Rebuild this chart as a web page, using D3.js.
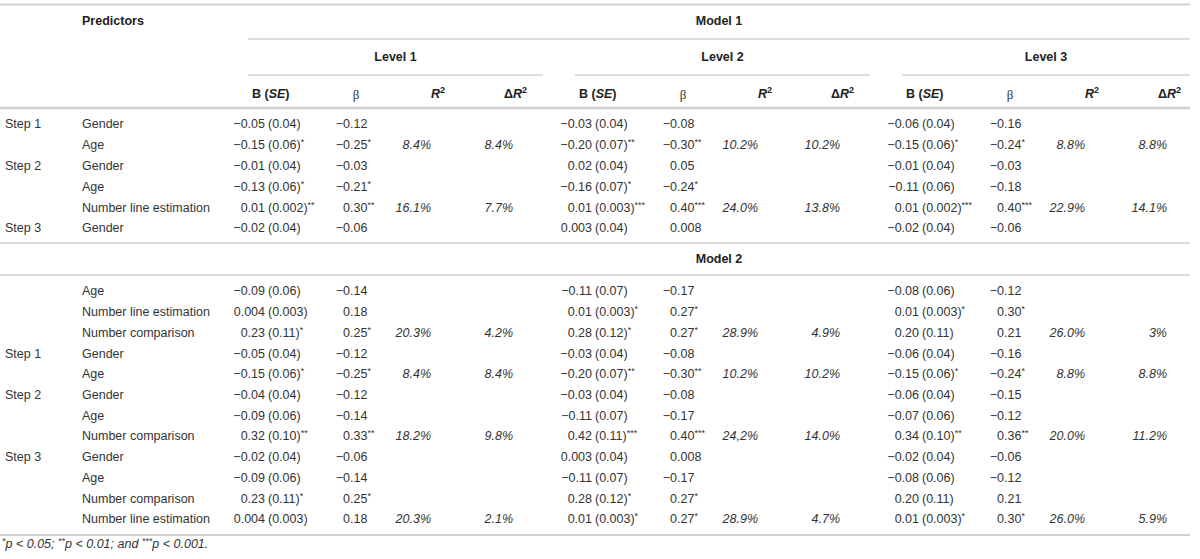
<!DOCTYPE html>
<html>
<head>
<meta charset="utf-8">
<script src="https://cdn.jsdelivr.net/npm/d3@7"></script>
<style>
body { margin: 0; background: #fff; }
svg text { font-family: "Liberation Sans", Arial, sans-serif; font-size: 12.5px; fill: #333; }
svg text.bold { font-weight: bold; fill: #222; }
</style>
</head>
<body>
<div id="chart"></div>
<script>
var levels = ["Level 1", "Level 2", "Level 3"];
var models = ["Model 1", "Model 2"];

// Model 1
var m1Steps = ["Step 1", "", "Step 2", "", "", "Step 3"];
var m1Predictors = ["Gender", "Age", "Gender", "Age", "Number line estimation", "Gender"];
var m1B = [
    ["−0.05 (0.04)", "−0.15 (0.06)*", "−0.01 (0.04)", "−0.13 (0.06)*", "0.01 (0.002)**", "−0.02 (0.04)"],
    ["−0.03 (0.04)", "−0.20 (0.07)**", "0.02 (0.04)", "−0.16 (0.07)*", "0.01 (0.003)***", "0.003 (0.04)"],
    ["−0.06 (0.04)", "−0.15 (0.06)*", "−0.01 (0.04)", "−0.11 (0.06)", "0.01 (0.002)***", "−0.02 (0.04)"]
];
var m1Beta = [
    ["−0.12", "−0.25*", "−0.03", "−0.21*", "0.30**", "−0.06"],
    ["−0.08", "−0.30**", "0.05", "−0.24*", "0.40***", "0.008"],
    ["−0.16", "−0.24*", "−0.03", "−0.18", "0.40***", "−0.06"]
];
var m1R2 = [
    ["", "8.4%", "", "", "16.1%", ""],
    ["", "10.2%", "", "", "24.0%", ""],
    ["", "8.8%", "", "", "22.9%", ""]
];
var m1DR2 = [
    ["", "8.4%", "", "", "7.7%", ""],
    ["", "10.2%", "", "", "13.8%", ""],
    ["", "8.8%", "", "", "14.1%", ""]
];

// Model 2
var m2Steps = ["", "", "", "Step 1", "", "Step 2", "", "", "Step 3", "", "", ""];
var m2Predictors = ["Age", "Number line estimation", "Number comparison", "Gender", "Age", "Gender", "Age",
    "Number comparison", "Gender", "Age", "Number comparison", "Number line estimation"];
var m2B = [
    ["−0.09 (0.06)", "0.004 (0.003)", "0.23 (0.11)*", "−0.05 (0.04)", "−0.15 (0.06)*", "−0.04 (0.04)",
     "−0.09 (0.06)", "0.32 (0.10)**", "−0.02 (0.04)", "−0.09 (0.06)", "0.23 (0.11)*", "0.004 (0.003)"],
    ["−0.11 (0.07)", "0.01 (0.003)*", "0.28 (0.12)*", "−0.03 (0.04)", "−0.20 (0.07)**", "−0.03 (0.04)",
     "−0.11 (0.07)", "0.42 (0.11)***", "0.003 (0.04)", "−0.11 (0.07)", "0.28 (0.12)*", "0.01 (0.003)*"],
    ["−0.08 (0.06)", "0.01 (0.003)*", "0.20 (0.11)", "−0.06 (0.04)", "−0.15 (0.06)*", "−0.06 (0.04)",
     "−0.07 (0.06)", "0.34 (0.10)**", "−0.02 (0.04)", "−0.08 (0.06)", "0.20 (0.11)", "0.01 (0.003)*"]
];
var m2Beta = [
    ["−0.14", "0.18", "0.25*", "−0.12", "−0.25*", "−0.12", "−0.14", "0.33**", "−0.06", "−0.14", "0.25*", "0.18"],
    ["−0.17", "0.27*", "0.27*", "−0.08", "−0.30**", "−0.08", "−0.17", "0.40***", "0.008", "−0.17", "0.27*", "0.27*"],
    ["−0.12", "0.30*", "0.21", "−0.16", "−0.24*", "−0.15", "−0.12", "0.36**", "−0.06", "−0.12", "0.21", "0.30*"]
];
var m2R2 = [
    ["", "", "20.3%", "", "8.4%", "", "", "18.2%", "", "", "", "20.3%"],
    ["", "", "28.9%", "", "10.2%", "", "", "24,2%", "", "", "", "28.9%"],
    ["", "", "26.0%", "", "8.8%", "", "", "20.0%", "", "", "", "26.0%"]
];
var m2DR2 = [
    ["", "", "4.2%", "", "8.4%", "", "", "9.8%", "", "", "", "2.1%"],
    ["", "", "4.9%", "", "10.2%", "", "", "14.0%", "", "", "", "4.7%"],
    ["", "", "3%", "", "8.8%", "", "", "11.2%", "", "", "", "5.9%"]
];

var footnote = [["*", "p < 0.05; "], ["**", "p < 0.01; and "], ["***", "p < 0.001."]];

var width = 1200,
    height = 559,
    tableRight = 1190,
    stepX = 5,
    predX = 82,
    // column anchors inside a level, for Level 1
    col = { paren: 268, dot: 350, r2: 431, dr2: 513, head: 252, left: 248, lineEnd: 543 };

var svg = d3.select('#chart').append('svg')
    .attr('width', width)
    .attr('height', height);

var xLevel = d3.scalePoint().domain(levels).range([0, 654]);
var y1 = d3.scaleLinear().domain([0, m1Predictors.length - 1]).range([124, 228]);
var y2 = d3.scaleLinear().domain([0, m2Predictors.length - 1]).range([291, 519]);

function rule(y, x1, x2, w, color) {
    svg.append('line')
        .attr('x1', x1).attr('x2', x2)
        .attr('y1', y).attr('y2', y)
        .attr('stroke', color || '#cfcfcf')
        .attr('stroke-width', w);
}

function stars(sel, s) {
    if (s) {
        sel.append('tspan').attr('dy', -4).style('font-size', '9px').text(s);
    }
}

function levelEnd(l) {
    return l === levels[levels.length - 1] ? tableRight : col.lineEnd + xLevel(l);
}

// rules
rule(4.5, 0, tableRight, 2);
rule(39, col.left, tableRight, 1, '#bdbdbd');
levels.forEach(function(l) {
    rule(75, col.left + xLevel(l), levelEnd(l), 1, '#bdbdbd');
});
rule(108, 0, tableRight, 2.5);
rule(243, 0, tableRight, 1.5);
rule(275, 0, tableRight, 1.5);
rule(535, 0, tableRight, 2);

// header
svg.append('text').attr('class', 'bold').attr('x', predX).attr('y', 21).attr('dy', '0.35em').text('Predictors');
svg.append('text').attr('class', 'bold')
    .attr('x', (col.left + tableRight) / 2).attr('y', 21).attr('dy', '0.35em')
    .attr('text-anchor', 'middle').text(models[0]);
svg.append('text').attr('class', 'bold')
    .attr('x', (col.left + tableRight) / 2).attr('y', 259).attr('dy', '0.35em')
    .attr('text-anchor', 'middle').text(models[1]);

levels.forEach(function(l) {
    var dx = xLevel(l);
    svg.append('text').attr('class', 'bold')
        .attr('x', (col.left + dx + levelEnd(l)) / 2).attr('y', 57).attr('dy', '0.35em')
        .attr('text-anchor', 'middle').text(l);

    var b = svg.append('text').attr('class', 'bold')
        .attr('x', col.head + dx).attr('y', 94).attr('dy', '0.35em');
    b.append('tspan').text('B (');
    b.append('tspan').style('font-style', 'italic').text('SE');
    b.append('tspan').text(')');

    svg.append('text')
        .attr('x', col.dot + dx + 6).attr('y', 94).attr('dy', '0.35em')
        .attr('text-anchor', 'middle')
        .style('font-family', '"Liberation Serif", "DejaVu Serif", serif')
        .style('font-size', '13px')
        .text('β');

    var r = svg.append('text').attr('class', 'bold')
        .attr('x', col.r2 + dx + 14).attr('y', 94).attr('dy', '0.35em')
        .attr('text-anchor', 'end');
    r.append('tspan').style('font-style', 'italic').text('R');
    r.append('tspan').attr('dy', -5).style('font-size', '9px').text('2');

    var d = svg.append('text').attr('class', 'bold')
        .attr('x', col.dr2 + dx + 14).attr('y', 94).attr('dy', '0.35em')
        .attr('text-anchor', 'end');
    d.append('tspan').text('Δ');
    d.append('tspan').style('font-style', 'italic').text('R');
    d.append('tspan').attr('dy', -5).style('font-size', '9px').text('2');
});

function drawBlock(steps, preds, B, beta, r2, dr2, y) {
    var rows = svg.append('g');
    rows.selectAll('text.step')
        .data(steps)
        .enter().append('text')
        .attr('class', 'step')
        .attr('x', stepX)
        .attr('y', function(d, i) { return y(i); })
        .attr('dy', '0.35em')
        .text(function(d) { return d; });

    rows.selectAll('text.pred')
        .data(preds)
        .enter().append('text')
        .attr('class', 'pred')
        .attr('x', predX)
        .attr('y', function(d, i) { return y(i); })
        .attr('dy', '0.35em')
        .text(function(d) { return d; });

    levels.forEach(function(l, li) {
        var dx = xLevel(l);

        B[li].forEach(function(v, i) {
            var m = v.match(/^(\S+) (\([^)]*\))(\**)$/);
            rows.append('text')
                .attr('x', col.paren + dx - 3)
                .attr('y', y(i)).attr('dy', '0.35em')
                .attr('text-anchor', 'end')
                .text(m[1]);
            var t = rows.append('text')
                .attr('x', col.paren + dx)
                .attr('y', y(i)).attr('dy', '0.35em');
            t.append('tspan').text(m[2]);
            stars(t, m[3]);
        });

        beta[li].forEach(function(v, i) {
            var m = v.match(/^([^.]+)(\.[0-9]+)(\**)$/);
            rows.append('text')
                .attr('x', col.dot + dx)
                .attr('y', y(i)).attr('dy', '0.35em')
                .attr('text-anchor', 'end')
                .text(m[1]);
            var t = rows.append('text')
                .attr('x', col.dot + dx)
                .attr('y', y(i)).attr('dy', '0.35em');
            t.append('tspan').text(m[2]);
            stars(t, m[3]);
        });

        [[r2[li], col.r2], [dr2[li], col.dr2]].forEach(function(c) {
            rows.selectAll(null)
                .data(c[0])
                .enter().append('text')
                .attr('x', c[1] + dx)
                .attr('y', function(d, i) { return y(i); })
                .attr('dy', '0.35em')
                .attr('text-anchor', 'end')
                .style('font-style', 'italic')
                .text(function(d) { return d; });
        });
    });
}

drawBlock(m1Steps, m1Predictors, m1B, m1Beta, m1R2, m1DR2, y1);
drawBlock(m2Steps, m2Predictors, m2B, m2Beta, m2R2, m2DR2, y2);

// footnote
var fn = svg.append('text').attr('x', 2).attr('y', 548).attr('dy', '0.35em').style('font-style', 'italic');
footnote.forEach(function(f) {
    fn.append('tspan').attr('dy', -4).style('font-size', '9px').text(f[0]);
    fn.append('tspan').attr('dy', 4).text(f[1]);
});
</script>
</body>
</html>
